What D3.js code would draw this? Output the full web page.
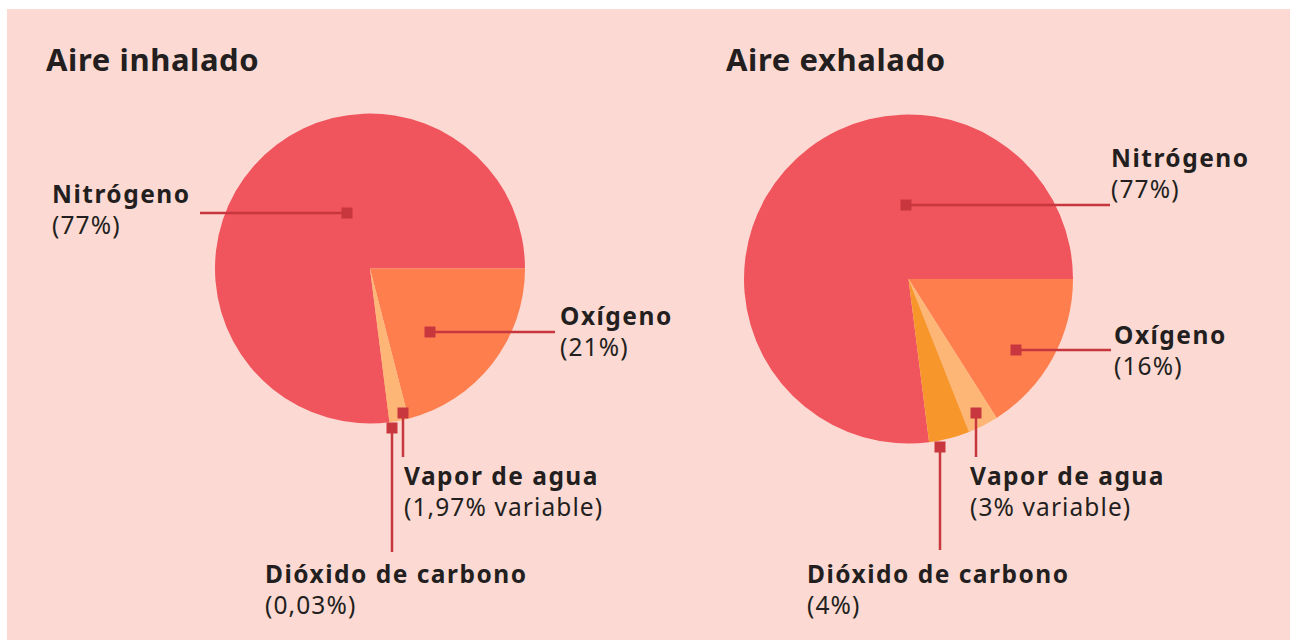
<!DOCTYPE html>
<html>
<head>
<meta charset="utf-8">
<script src="https://cdn.jsdelivr.net/npm/d3@7"></script>
<style>
  html, body { margin: 0; padding: 0; background: #fff; }
  svg { display: block; }
  text { font-family: "Noto Sans", sans-serif; fill: #231f20; }
</style>
</head>
<body>
<svg width="1290" height="640"></svg>
<script>
// data
var categories = ['Nitrógeno', 'Oxígeno', 'Vapor de agua', 'Dióxido de carbono'];
var inhaledValues = [77, 21, 1.97, 0.03];
var exhaledValues = [77, 16, 3, 4];
var inhaledLabels = ['(77%)', '(21%)', '(1,97% variable)', '(0,03%)'];
var exhaledLabels = ['(77%)', '(16%)', '(3% variable)', '(4%)'];
var titles = ['Aire inhalado', 'Aire exhalado'];
var colors = ['#f0555d', '#fe7e4e', '#fdb676', '#f7962b'];

// layout (annotation placement, not data)
var charts = [
  {
    title: titles[0], values: inhaledValues, labels: inhaledLabels,
    cx: 370, cy: 268.5, r: 155, tx: 46, ty: 71,
    notes: [
      { dot: [347, 213], end: [200, 213], text: [52, 203] },
      { dot: [430, 332], end: [555, 332], text: [560, 325] },
      { dot: [403, 413], end: [403, 457], text: [404, 485] },
      { dot: [392, 428], end: [392, 552], text: [265, 583] }
    ]
  },
  {
    title: titles[1], values: exhaledValues, labels: exhaledLabels,
    cx: 908.5, cy: 279, r: 164.5, tx: 726, ty: 71,
    notes: [
      { dot: [906, 205], end: [1110, 205], text: [1111, 167] },
      { dot: [1016, 350], end: [1111, 350], text: [1114, 344] },
      { dot: [976, 413], end: [976, 457], text: [970, 485] },
      { dot: [940, 447], end: [940, 550], text: [807, 583] }
    ]
  }
];

var svg = d3.select('svg');

svg.append('rect')
   .attr('x', 7)
   .attr('y', 9)
   .attr('width', 1283)
   .attr('height', 631)
   .attr('fill', '#fcdad3');

var pie = d3.pie()
    .sort(null)
    .startAngle(Math.PI / 2 - 0.77 * 2 * Math.PI)
    .endAngle(Math.PI / 2 + 0.23 * 2 * Math.PI);

charts.forEach(function(c) {
  svg.append('text')
     .attr('x', c.tx)
     .attr('y', c.ty)
     .attr('font-size', 31)
     .attr('font-weight', 700)
     .attr('letter-spacing', 0.6)
     .text(c.title);

  var arc = d3.arc().innerRadius(0).outerRadius(c.r);
  var g = svg.append('g').attr('transform', 'translate(' + c.cx + ',' + c.cy + ')');
  g.selectAll('path')
   .data(pie(c.values))
   .enter()
   .append('path')
   .attr('d', arc)
   .attr('fill', function(d, i) { return colors[i]; });

  c.notes.forEach(function(n, i) {
    svg.append('line')
       .attr('x1', n.dot[0]).attr('y1', n.dot[1])
       .attr('x2', n.end[0]).attr('y2', n.end[1])
       .attr('stroke', '#c8363e')
       .attr('stroke-width', 2.5);
    svg.append('rect')
       .attr('x', n.dot[0] - 5.5)
       .attr('y', n.dot[1] - 5.5)
       .attr('width', 11)
       .attr('height', 11)
       .attr('fill', '#c8363e');
    svg.append('text')
       .attr('x', n.text[0])
       .attr('y', n.text[1])
       .attr('font-size', 24.5)
       .attr('font-weight', 700)
       .attr('letter-spacing', 1.5)
       .text(categories[i]);
    svg.append('text')
       .attr('x', n.text[0])
       .attr('y', n.text[1] + 31)
       .attr('font-size', 24.5)
       .attr('letter-spacing', 1.1)
       .text(c.labels[i]);
  });
});
</script>
</body>
</html>
